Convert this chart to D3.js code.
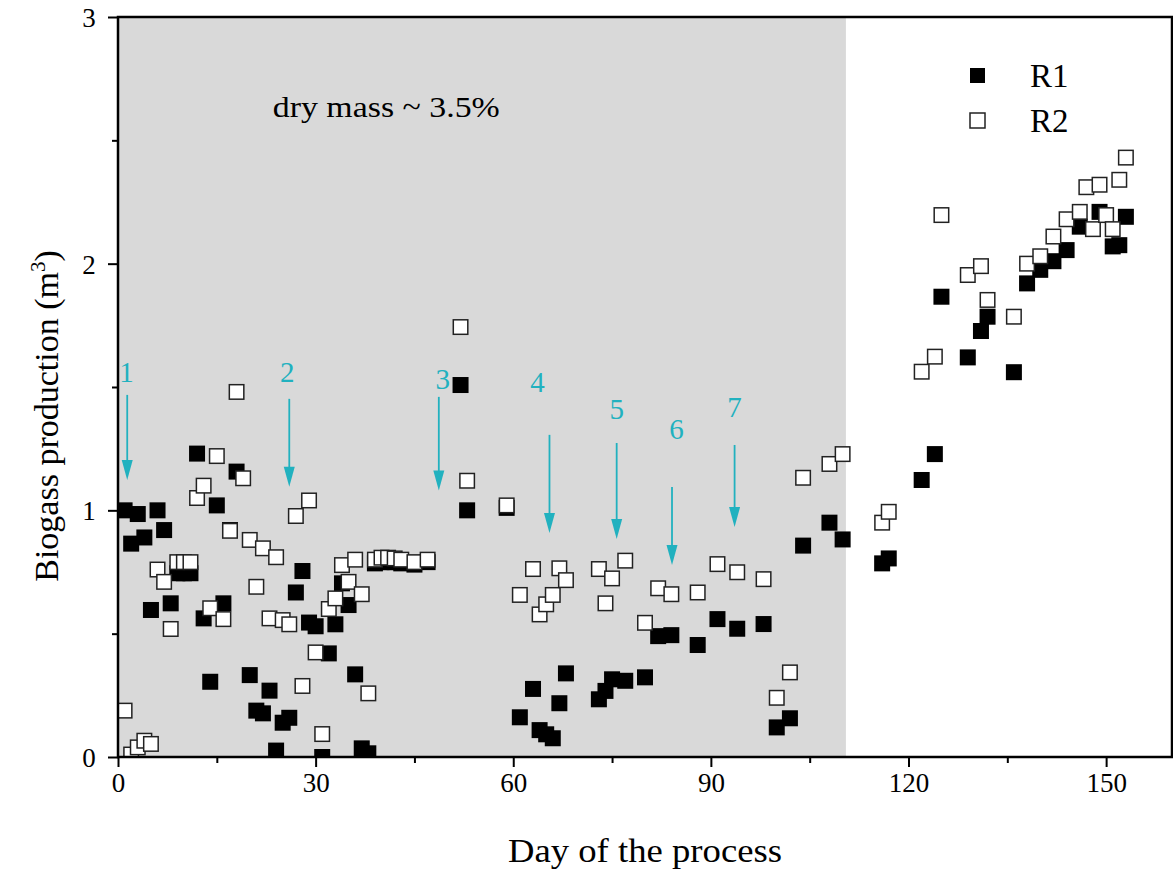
<!DOCTYPE html>
<html>
<head>
<meta charset="utf-8">
<script src="https://cdn.jsdelivr.net/npm/d3@7"></script>
<style>
  body { margin: 0; background: #fff; }
  text { font-family: "Liberation Serif", "DejaVu Serif", serif; }
</style>
</head>
<body>
<svg width="1173" height="871"></svg>
<script>
// day of the process / biogas production (m3)
var r1Days = [1,2,3,4,5,6,7,8,9,10,11,12,13,14,15,16,17,18,20,21,22,23,24,25,26,27,28,29,30,31,32,33,34,35,36,37,38,
  39,40,41,42,43,45,47,52,53,59,61,63,64,65,66,67,68,73,74,75,77,80,82,84,88,91,94,98,100,102,104,108,110,
  116,117,122,124,125,129,131,132,136,138,140,142,144,146,149,151,152,153];
var r1Values = [1.00,0.865,0.985,0.89,0.596,1.00,0.92,0.623,0.745,0.745,0.745,1.23,0.562,0.305,1.02,0.623,0.92,1.157,
  0.332,0.188,0.177,0.269,0.026,0.139,0.159,0.667,0.754,0.545,0.53,0.0,0.42,0.538,0.704,0.616,0.335,0.035,0.015,
  0.785,0.79,0.79,0.79,0.785,0.78,0.79,1.508,1.00,1.01,0.161,0.276,0.109,0.092,0.076,0.218,0.339,
  0.234,0.268,0.315,0.309,0.323,0.49,0.494,0.454,0.559,0.52,0.539,0.12,0.157,0.857,0.95,0.882,
  0.785,0.805,1.123,1.228,1.866,1.62,1.727,1.785,1.56,1.92,1.975,2.01,2.055,2.15,2.21,2.07,2.075,2.19];

var r2Days = [1,2,3,4,5,6,7,8,9,10,11,12,13,14,15,16,17,18,19,20,21,22,23,24,25,26,27,28,29,30,31,32,33,34,35,36,37,38,
  39,40,41,42,43,45,47,52,53,59,61,63,64,65,66,67,68,73,74,75,77,80,82,84,88,91,94,98,100,102,104,108,110,
  116,117,122,124,125,129,131,132,136,138,140,142,144,146,147,148,149,150,151,152,153];
var r2Values = [0.188,0.01,0.039,0.066,0.053,0.76,0.71,0.519,0.79,0.79,0.79,1.05,1.10,0.603,1.22,0.559,0.917,1.48,1.13,
  0.88,0.69,0.846,0.562,0.81,0.555,0.538,0.977,0.288,1.04,0.424,0.093,0.60,0.643,0.778,0.71,0.80,0.66,0.258,
  0.80,0.808,0.808,0.805,0.80,0.79,0.80,1.743,1.12,1.02,0.657,0.762,0.578,0.619,0.657,0.765,0.717,
  0.762,0.623,0.724,0.796,0.544,0.684,0.66,0.667,0.782,0.749,0.721,0.24,0.343,1.132,1.188,1.228,
  0.95,0.994,1.562,1.623,2.197,1.954,1.99,1.853,1.785,2.0,2.03,2.11,2.18,2.21,2.31,2.14,2.32,2.197,2.14,2.34,2.43];

// feeding changes: arrow day, start, tip, label
var arrowDays = [1.4, 26, 48.7, 65.5, 75.7, 84.1, 93.6];
var arrowTop = [1.468, 1.452, 1.46, 1.306, 1.273, 1.095, 1.265];
var arrowTip = [1.123, 1.096, 1.08, 0.908, 0.884, 0.778, 0.932];
var arrowLabels = ['1','2','3','4','5','6','7'];
var labelDays = [1.3, 25.7, 49.3, 63.7, 75.7, 84.8, 93.6];
var labelValues = [1.52, 1.52, 1.49, 1.48, 1.37, 1.29, 1.38];

var dryEnd = 110.5;   // end of the ~3.5% dry mass period
var xTicks = [0, 30, 60, 90, 120, 150];
var yTicks = [0, 1, 2, 3];

var svg = d3.select('svg'),
  margin = {left: 118, right: 1, top: 17, bottom: 114},
  w = +svg.attr('width') - margin.left - margin.right,
  h = +svg.attr('height') - margin.top - margin.bottom,
  g = svg.append('g').attr('transform', 'translate(' + margin.left + ',' + margin.top + ')');

var x = d3.scaleLinear().domain([0, 160]).range([0, w]);
var y = d3.scaleLinear().domain([0, 3]).range([h, 0]);
var cyan = '#21b1bf';

g.append('clipPath').attr('id', 'plot')
  .append('rect').attr('width', w).attr('height', h);

// shaded period
g.append('rect')
  .attr('x', 0).attr('y', 0)
  .attr('width', x(dryEnd)).attr('height', h)
  .attr('fill', '#d9d9d9');

g.append('text')
  .attr('x', x(23.5)).attr('y', y(2.6) + 1)
  .attr('font-size', 30)
  .attr('textLength', 227).attr('lengthAdjust', 'spacingAndGlyphs')
  .text('dry mass ~ 3.5%');

// markers
var s = 16;
var pts = g.append('g').attr('clip-path', 'url(#plot)');

pts.selectAll('rect.r1')
  .data(d3.zip(r1Days, r1Values))
  .enter().append('rect')
  .attr('class', 'r1')
  .attr('x', function(d) { return x(d[0]) - s/2; })
  .attr('y', function(d) { return y(d[1]) - s/2; })
  .attr('width', s).attr('height', s)
  .attr('fill', '#000');

pts.selectAll('rect.r2')
  .data(d3.zip(r2Days, r2Values))
  .enter().append('rect')
  .attr('class', 'r2')
  .attr('x', function(d) { return x(d[0]) - s/2 + 0.75; })
  .attr('y', function(d) { return y(d[1]) - s/2 + 0.75; })
  .attr('width', s - 1.5).attr('height', s - 1.5)
  .attr('fill', '#fff')
  .attr('stroke', '#222').attr('stroke-width', 1.5);

// arrows
var arrows = g.append('g');
arrowDays.forEach(function(d, i) {
  var ax = x(d), y0 = y(arrowTop[i]), y1 = y(arrowTip[i]);
  arrows.append('line')
    .attr('x1', ax).attr('x2', ax)
    .attr('y1', y0).attr('y2', y1 - 14)
    .attr('stroke', cyan).attr('stroke-width', 1.8);
  arrows.append('path')
    .attr('d', 'M' + (ax - 5.5) + ',' + (y1 - 20) + 'L' + (ax + 5.5) + ',' + (y1 - 20) + 'L' + ax + ',' + y1 + 'Z')
    .attr('fill', cyan);
  arrows.append('text')
    .attr('x', x(labelDays[i])).attr('y', y(labelValues[i]))
    .attr('text-anchor', 'middle')
    .attr('font-size', 29)
    .attr('fill', cyan)
    .text(arrowLabels[i]);
});

// axes
var xAxis = g.append('g').attr('transform', 'translate(0,' + h + ')')
  .call(d3.axisBottom(x).tickValues(d3.range(0, 161, 15)).tickSize(10).tickFormat(''));
xAxis.selectAll('.tick line').attr('stroke-width', 2)
  .attr('y2', function(d) { return d % 30 === 0 ? 10 : 6; });
xAxis.selectAll('.tick')
  .filter(function(d) { return xTicks.indexOf(d) >= 0; })
  .append('text')
  .attr('y', 35).attr('fill', '#000')
  .attr('font-size', 27).attr('text-anchor', 'middle')
  .text(function(d) { return d; });

var yAxis = g.append('g')
  .call(d3.axisLeft(y).tickValues(d3.range(0, 3.01, 0.5)).tickSize(10).tickFormat(''));
yAxis.selectAll('.tick line').attr('stroke-width', 2)
  .attr('x2', function(d) { return d % 1 === 0 ? -10 : -6; });
yAxis.selectAll('.tick')
  .filter(function(d) { return yTicks.indexOf(d) >= 0; })
  .append('text')
  .attr('x', -29).attr('dy', '0.35em').attr('fill', '#000')
  .attr('font-size', 27).attr('text-anchor', 'middle')
  .text(function(d) { return d; });

g.selectAll('.domain').remove();

// frame
g.append('rect')
  .attr('width', w).attr('height', h)
  .attr('fill', 'none').attr('stroke', '#000').attr('stroke-width', 2.5);

// legend
var legend = g.append('g');
['R1', 'R2'].forEach(function(name, i) {
  var ly = 58 + i * 45;
  legend.append('rect')
    .attr('x', 852).attr('y', ly - 7)
    .attr('width', 15).attr('height', 15)
    .attr('fill', i === 0 ? '#000' : '#fff')
    .attr('stroke', i === 0 ? 'none' : '#222').attr('stroke-width', 1.5);
  legend.append('text')
    .attr('x', 912).attr('y', ly + 12)
    .attr('font-size', 33)
    .text(name);
});

// axis titles
svg.append('text')
  .attr('x', 645).attr('y', 862)
  .attr('text-anchor', 'middle').attr('font-size', 34)
  .attr('textLength', 274).attr('lengthAdjust', 'spacingAndGlyphs')
  .text('Day of the process');

var yt = svg.append('text')
  .attr('transform', 'translate(58,416) rotate(-90)')
  .attr('text-anchor', 'middle').attr('font-size', 34);
yt.append('tspan').text('Biogass production (m');
yt.append('tspan').attr('dy', -13).attr('font-size', 21).text('3');
yt.append('tspan').attr('dy', 13).text(')');
</script>
</body>
</html>
